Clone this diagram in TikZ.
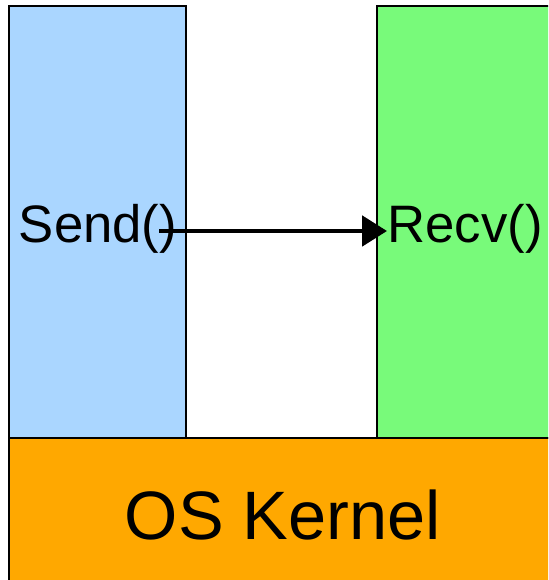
\documentclass[tikz,border=0pt]{standalone}
\usepackage{fontspec}
\setmainfont{Liberation Sans}
\usetikzlibrary{arrows.meta}

\definecolor{sendblue}{RGB}{170,214,255}
\definecolor{recvgreen}{RGB}{120,250,122}
\definecolor{kernelorange}{RGB}{255,168,0}

\begin{document}
\begin{tikzpicture}[x=0.02cm,y=-0.02cm,
        box/.style={draw, line width=0.9pt, inner sep=0pt, outer sep=0pt},
        label/.style={inner sep=0pt, font=\fontsize{30}{36}\selectfont}]
        \useasboundingbox (0,0) rectangle (548,580);
        \clip (0,0) rectangle (548,580);
        \node[box, fill=sendblue, minimum width=3.54cm, minimum height=8.64cm] (sender) at (97.5,222) {};
        \node[box, fill=recvgreen, minimum width=3.66cm, minimum height=8.64cm] (receiver) at (468.5,222) {};
        \node[box, fill=kernelorange, line width=1.3pt, minimum width=11.02cm, minimum height=3.24cm] (kernel) at (284.5,519) {};
        
        \node[label] (send) at (98,229) {Send()};
        \node[label] (recv) at (465,229) {Recv()};
        \node[label, font=\fontsize{39}{46}\selectfont] (os) at (283,515) {OS Kernel};
        
        \draw[-{Triangle[length=0.5cm,width=0.6cm]}, line width=2.8pt] ([xshift=-0.36cm,yshift=-0.04cm]send.east) -- ([yshift=-0.04cm]recv.west);
        \end{tikzpicture}
\end{document}
